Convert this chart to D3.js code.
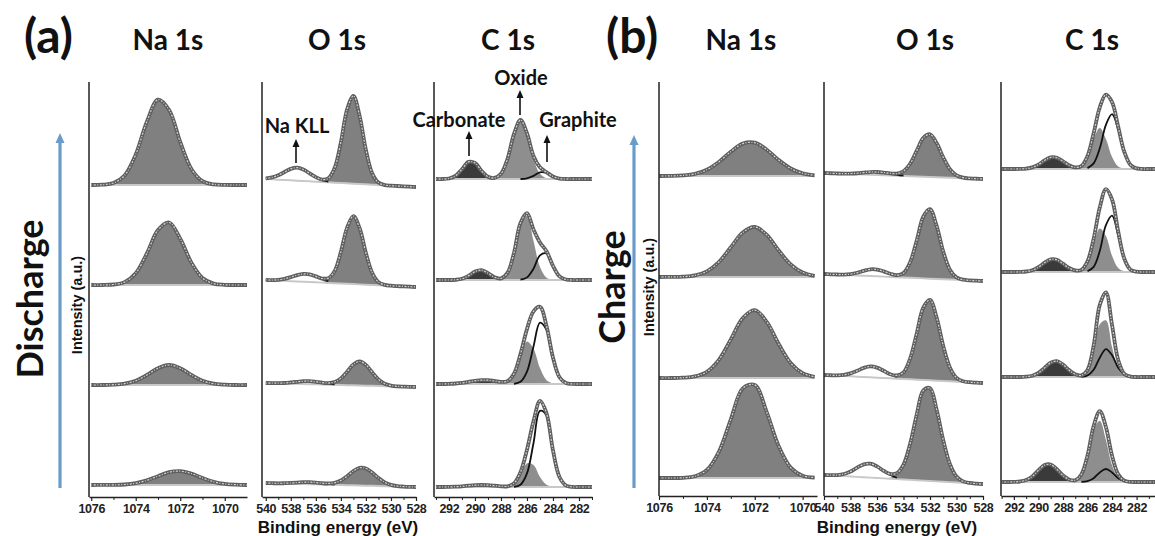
<!DOCTYPE html>
<html><head><meta charset="utf-8">
<script src="https://cdn.jsdelivr.net/npm/d3@7"></script>
<style>body{margin:0;background:#fff}svg{display:block}</style>
</head><body>
<svg id="c" width="1155" height="536"></svg>
<script>
// ---------------- DATA (energies in eV, intensities in a.u.) ----------------
const naGridA = [1076,1075.5,1075,1074.5,1074,1073.5,1073,1072.5,1072,1071.5,1071,1070.5,1070,1069.5,1069];
const naGridB = [1076,1075.5,1075,1074.5,1074,1073.5,1073,1072.5,1072,1071.5,1071,1070.5,1070,1069.5];
const oGrid = [540,539.5,539,538.5,538,537.5,537,536.5,536,535.5,535,534.5,534,533.5,533,532.5,532,531.5,531,530.5,530,529.5,529,528.5,528];
const cGridA = [293,292.5,292,291.5,291,290.5,290,289.5,289,288.5,288,287.5,287,286.5,286,285.5,285,284.5,284,283.5,283,282.5,282,281.5,281];
const cGridB = [293,292.5,292,291.5,291,290.5,290,289.5,289,288.5,288,287.5,287,286.5,286,285.5,285,284.5,284,283.5,283,282.5,282,281.5,281,280.5];

// each component: [first energy, values every 0.5 eV toward lower energy]; rows bottom -> top
// (a) Discharge
const naA_peak = [
  [1075.5,[0.1,0.1,0.5,1.8,4.6,8.8,12.8,13.9,11.4,7.0,3.2,1.1,0.3,0]],
  [1075,[0.3,1.3,4.2,10,16.8,20,16.8,10,4.2,1.3,0.3,0]],
  [1075,[0.5,2.9,11.8,31.5,54.9,62.5,46.3,22.4,7.0,1.4,0.2,0]],
  [1075.5,[0.3,2.0,9.6,30.5,63.2,85.3,75.0,43.0,16.1,3.9,0.6,0.1,0]]
];
const naA_bg = [[0,0],[0,0],[0,0],[0,0]];
const oA_main = [
  [535.5,[0.1,0.5,1.7,4.5,9.0,14.2,17.7,17.2,13.2,8.0,3.8,1.4,0.4,0.1]],
  [535.5,[0.1,0.7,2.4,6.6,13.5,20.8,24,20.8,13.5,6.6,2.4,0.7,0.1]],
  [536,[0.1,0.6,3.1,12.1,31.6,56.1,68,56.1,31.6,12.1,3.1,0.6,0.1]],
  [536,[0.1,0.5,3.4,14.6,40.7,74.0,87.8,67.9,34.3,11.3,2.4,0.3]]
];
const oA_kll = [
  [538.5,[0.3,0.7,1.2,1.8,2,1.8,1.2,0.7,0.3]],
  [539,[0.2,0.5,1.2,2.0,2.8,3.0,2.5,1.7,0.9,0.4]],
  [540,[0.1,0.2,0.8,2.0,4.0,6.3,7.8,7.7,5.9,3.5,1.7]],
  [540,[0.6,1.9,4.4,8.0,11.5,13,11.5,8.0,4.4,1.9,0.6]]
];
const oA_bg = [[2,-2],[2,-2],[5,-2],[6,-2]];
const cA_carb = [
  [292,[0.1,0.3,0.7,1.3,1.8,2,1.8,1.3,0.7,0.3,0.1]],
  [292,[0.2,0.5,1.1,2.1,3.2,3.9,3.8,3.0,1.9,1.0,0.4,0.1]],
  [291.5,[0.2,1.2,4.2,8.4,9.9,6.8,2.7,0.6,0.1]],
  [292,[0.5,3.1,9.8,17.1,16.1,8.2,2.2,0.3]]
];
const cA_oxide = [
  [288,[0,0.4,3.3,12.5,23.6,22.0,10.1,2.3,0.3]],
  [288,[0.2,1.8,9.7,27.6,42.5,35.3,15.9,3.8,0.5]],
  [288.5,[0.1,1.0,7.0,27.1,56.8,64.2,39.2,12.9,2.3,0.2]],
  [289,[0.1,0.8,5.2,20.0,45.0,59,45.0,20.0,5.2,0.8,0.1]]
];
const cA_graph = [
  [287,[0.2,2.3,13.6,43.7,76.1,71.6,36.3,10.0,1.5,0.1]],
  [287,[0.2,2.2,12.4,37.4,61.3,54.2,25.8,6.7,0.9,0.1]],
  [286.5,[0.3,2.6,11.3,24.6,26.5,14.0,3.6,0.5]],
  [286.5,[0,0.7,3.1,6.6,6.0,2.4,0.4,0]]
];
const cA_bg = [[-2,-2],[1,1],[5,5],[6,6]];

// (b) Charge
const naB_peak = [
  [1075,[0.2,1.7,8.0,26.2,58.7,89.6,93.1,65.9,31.8,10.4,2.3,0.4]],
  [1075,[0.3,1.6,6.2,18.1,38.6,59.9,67.9,56.2,34.0,15.0,4.8,1.1]],
  [1075.5,[0.1,0.3,1.6,5.7,15.0,29.8,44.5,50.0,42.1,26.6,12.6,4.5,1.2]],
  [1075.5,[0.1,0.6,2.1,6.2,14.0,24.3,32.4,33.3,26.3,16.0,7.5,2.7,0.7]]
];
const naB_bg = [[0,0],[0,0],[0,0],[0,0]];
const oB_main = [
  [535.5,[0.2,1.1,4.6,14.9,36.1,65.8,90.2,92.8,71.7,41.6,18.1,5.9,1.5,0.3]],
  [535,[0.2,1.5,6.6,20.8,46.2,72.5,80.4,63.1,35.0,13.8,3.8,0.7,0.1]],
  [535,[0.1,0.8,4.4,15.5,37.6,61.9,69.5,53.1,27.6,9.8,2.4,0.4]],
  [535,[0.2,1.1,4.4,12.5,25.8,38.9,42.7,34.3,20.1,8.6,2.7,0.6,0.1]]
];
const oB_kll = [
  [539.5,[0.2,0.7,2.1,5.0,9.2,12.9,13.9,11.6,7.4,3.7,1.4]],
  [539.5,[0.1,0.3,1.1,2.9,5.8,9.1,10.9,10.1,7.2,3.9,1.7]],
  [539,[0.1,0.3,1.1,2.7,4.9,6.7,6.8,5.3,3.1,1.3]],
  [538.5,[0.1,0.4,1.0,1.9,2.7,3,2.7,1.9,1.0,0.4]]
];
const oB_bg = [[3,-6],[3,-5],[3,-4],[3,-3]];
const cB_carb = [
  [292,[0.1,0.5,1.9,5.6,11.6,16.9,17.5,12.8,6.6,2.4,0.6,0.1]],
  [291,[0.3,1.3,4.1,9.1,14.3,15.9,12.5,6.9,2.7,0.8,0.1]],
  [291.5,[0.1,0.5,1.8,4.8,9.3,12.6,12.2,8.3,4.0,1.4,0.3,0.1]],
  [291.5,[0.1,0.4,1.6,4.4,8.5,11.7,11.3,7.7,3.7,1.3,0.3,0.1]]
];
const cB_oxide = [
  [287.5,[0.1,1.2,7.4,25.8,52.1,61.3,42.0,16.7,3.9,0.5,0]],
  [286.5,[0.6,5.5,24.2,52.8,56.7,30,7.8,1.0,0.1]],
  [287,[0.2,1.9,9.9,28.2,43.5,36.1,16.2,3.9,0.5,0]],
  [287,[0.3,2.6,12.0,30.1,41,30.1,12.0,2.6,0.3]]
];
const cB_graph = [
  [286.5,[0.1,0.8,3.8,9.6,13,9.6,3.8,0.8,0.1]],
  [286.5,[0.2,1.5,7.2,19.3,27.9,21.8,9.2,2.1,0.3]],
  [286,[0.7,5.1,21.0,46.8,56.3,36.6,12.8,2.4,0.3,0]],
  [286,[0.9,5.6,20.7,44.2,54.8,39.6,16.7,4.1,0.6,0]]
];
const cB_bg = [[-4,-4],[1,1],[5,5],[7,7]];

// ticks and labels
const naTicks = [1076,1074,1072,1070], naMinor = [1075,1073,1071];
const oTicks = [540,538,536,534,532,530,528], oMinor = [539,537,535,533,531,529];
const cTicks = [292,290,288,286,284,282], cMinor = [293,291,289,287,285,283,281];
const regionTitles = ["Na 1s","O 1s","C 1s"];
const panelLetters = ["(a)","(b)"];
const sideLabels = ["Discharge","Charge"];
const peakLabels = ["Na KLL","Carbonate","Oxide","Graphite"];

// ---------------- DRAWING ----------------
const svg = d3.select('#c');
const FT = 'Lato, "Open Sans", sans-serif';
const FA = '"Liberation Sans", Arial, sans-serif';
const GRAY = '#808080', DARK = '#3a3a3a', OXI = '#8e8e8e';

const panels = [
  { yDomain:[-12,403], yRange:[497,82], offsets:[0,100,200,300],
    regions:[
      {grid:naGridA, xd:[1076.1,1069], xr:[89,247], fills:[{d:naA_peak,c:GRAY}], lines:[], bg:naA_bg, ticks:naTicks, minor:naMinor},
      {grid:oGrid, xd:[540.3,528], xr:[262,416], fills:[{d:oA_main,c:GRAY}], lines:[{d:oA_kll}], bg:oA_bg, ticks:oTicks, minor:oMinor},
      {grid:cGridA, xd:[293.15,281], xr:[434,592], fills:[{d:cA_carb,c:DARK},{d:cA_oxide,c:OXI}], lines:[{d:cA_graph}], bg:cA_bg, ticks:cTicks, minor:cMinor}
    ]},
  { yDomain:[-18,396], yRange:[496,82], offsets:[0,100,201,302],
    regions:[
      {grid:naGridB, xd:[1076,1069.4], xr:[659,817], fills:[{d:naB_peak,c:GRAY}], lines:[], bg:naB_bg, ticks:naTicks, minor:naMinor},
      {grid:oGrid, xd:[540,528], xr:[824,983], fills:[{d:oB_main,c:GRAY}], lines:[{d:oB_kll}], bg:oB_bg, ticks:oTicks, minor:oMinor},
      {grid:cGridB, xd:[293.05,280.5], xr:[1001,1155], fills:[{d:cB_carb,c:DARK},{d:cB_oxide,c:OXI}], lines:[{d:cB_graph}], bg:cB_bg, ticks:cTicks, minor:cMinor}
    ]}
];

const curve = d3.curveCatmullRom.alpha(0.5);

panels.forEach(p => {
  const y = d3.scaleLinear().domain(p.yDomain).range(p.yRange);
  p.regions.forEach(r => {
    const x = d3.scaleLinear().domain(r.xd).range(r.xr);
    const g = svg.append('g');
    const n = r.grid.length;
    p.offsets.forEach((off,row) => {
      const [bl,br] = r.bg[row];
      const bgAt = i => bl + (br-bl)*i/(n-1);
      const pts = comp => {
        const [start, vals] = comp[row];
        const i0 = r.grid.indexOf(start);
        return vals.map((v,k)=>({i:i0+k, v})).filter(d=>d.i<n)
          .map(d=>({e:r.grid[d.i], b:bgAt(d.i), v:d.v}));
      };
      const env = r.grid.map(()=>0);
      [...r.fills, ...r.lines].forEach(c => pts(c.d).forEach(d => { env[r.grid.indexOf(d.e)] += d.v; }));

      r.fills.forEach(c => {
        g.append('path').datum(pts(c.d))
          .attr('d', d3.area().x(d=>x(d.e)).y0(d=>y(off+d.b)).y1(d=>y(off+d.b+d.v)).curve(curve))
          .attr('fill', c.c);
      });
      g.append('path').datum(r.grid.map((e,i)=>({e, v:bgAt(i)})))
        .attr('d', d3.line().x(d=>x(d.e)).y(d=>y(off+d.v)))
        .attr('fill','none').attr('stroke','#c8c8c8').attr('stroke-width',2);
      r.lines.forEach(c => {
        g.append('path').datum(pts(c.d))
          .attr('d', d3.line().x(d=>x(d.e)).y(d=>y(off+d.b+d.v)).curve(curve))
          .attr('fill','none').attr('stroke','#111').attr('stroke-width',1.8);
      });
      const envPts = r.grid.map((e,i)=>({e, v:bgAt(i)+env[i]}));
      const envLine = d3.line().x(d=>x(d.e)).y(d=>y(off+d.v)).curve(curve);
      g.append('path').datum(envPts).attr('d', envLine)
        .attr('fill','none').attr('stroke','#5e5e5e').attr('stroke-width',3.8).attr('stroke-linejoin','round');
      g.append('path').datum(envPts).attr('d', envLine)
        .attr('fill','none').attr('stroke','#d4d4d4').attr('stroke-width',1.2)
        .attr('stroke-dasharray','1 1.6 2 1.4');
    });
    // axes
    const yB = p.yRange[0];
    g.append('line').attr('x1',r.xr[0]).attr('x2',r.xr[0]).attr('y1',p.yRange[1]).attr('y2',yB)
      .attr('stroke','#222').attr('stroke-width',1.5);
    const ax = g.append('g').attr('transform',`translate(0,${yB})`)
      .call(d3.axisBottom(x).tickValues(r.ticks).tickSize(4).tickSizeOuter(0).tickFormat(d3.format('d')));
    ax.select('.domain').attr('stroke','#222').attr('stroke-width',1.5);
    ax.selectAll('.tick line').attr('stroke','#222').attr('stroke-width',1.2);
    ax.selectAll('text').attr('font-family',FA).attr('font-weight','bold').attr('font-size',12.5)
      .attr('letter-spacing','-0.3').attr('fill','#222');
    const mx = g.append('g').attr('transform',`translate(0,${yB})`)
      .call(d3.axisBottom(x).tickValues(r.minor).tickSize(3).tickFormat(''));
    mx.select('.domain').remove();
    mx.selectAll('.tick line').attr('stroke','#222').attr('stroke-width',1);
  });
});

// ---------------- TEXT / ANNOTATIONS ----------------
function txt(s, x, y, size, family, anchor='middle', weight='bold', rot=0) {
  const t = svg.append('text').text(s).attr('font-family',family).attr('font-size',size)
    .attr('font-weight',weight).attr('text-anchor',anchor).attr('fill','#111');
  if (rot) t.attr('transform',`translate(${x},${y}) rotate(${rot})`);
  else t.attr('x',x).attr('y',y);
  return t;
}
function upArrow(x, yTail, yTip, color, w, hw, hl) {
  svg.append('line').attr('x1',x).attr('x2',x).attr('y1',yTail).attr('y2',yTip+hl-1)
    .attr('stroke',color).attr('stroke-width',w);
  svg.append('path').attr('d',`M${x},${yTip} L${x-hw},${yTip+hl} L${x+hw},${yTip+hl} Z`).attr('fill',color);
}

// panel letters and titles
txt(panelLetters[0], 24, 53, 48, FT, 'start');
txt(panelLetters[1], 606, 53, 48, FT, 'start');
[168, 337, 508].forEach((cx,i)=>txt(regionTitles[i], cx, 50, 28, FT));
[741, 925, 1092].forEach((cx,i)=>txt(regionTitles[i], cx, 50, 28, FT));

// side labels
txt(sideLabels[0], 43, 299, 36, FT, 'middle', 'bold', -90);
txt(sideLabels[1], 625, 287, 36, FT, 'middle', 'bold', -90);
upArrow(60, 488, 133, '#6a9bc9', 3.2, 4.5, 10);
upArrow(634, 488, 135, '#6a9bc9', 3.2, 4.5, 10);
txt('Intensity (a.u.)', 82, 305, 14.5, FA, 'middle', 'bold', -90);
txt('Intensity (a.u.)', 654, 287, 14.5, FA, 'middle', 'bold', -90);

// x titles
txt('Binding energy (eV)', 338, 533, 17, FA);
txt('Binding energy (eV)', 897, 533, 17, FA);

// peak annotations (panel a)
txt(peakLabels[0], 297, 133, 20, FT);
upArrow(296, 163, 139, '#111', 1.6, 3.5, 8);
txt(peakLabels[1], 459, 127, 20, FT);
upArrow(469, 156, 131, '#111', 1.6, 3.5, 8);
txt(peakLabels[2], 521, 85, 20, FT);
upArrow(520, 115, 90, '#111', 1.6, 3.5, 8);
txt(peakLabels[3], 578, 127, 20, FT);
upArrow(547, 162, 135, '#111', 1.6, 3.5, 8);
</script>
</body></html>
